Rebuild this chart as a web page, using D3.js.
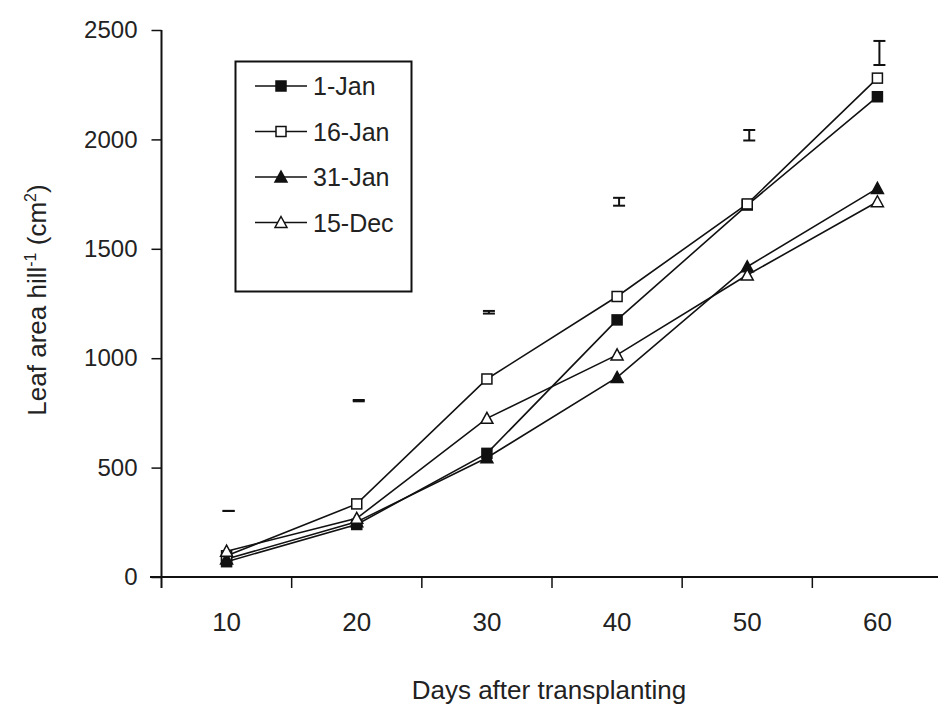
<!DOCTYPE html>
<html>
<head>
<meta charset="utf-8">
<script src="https://cdn.jsdelivr.net/npm/d3@7"></script>
<style>
  body { margin: 0; background: #fff; }
  text { font-family: "Liberation Sans", Arial, sans-serif; fill: #222; }
</style>
</head>
<body>
<div id="chart"></div>
<script>
 //days after transplanting
 var days = [10, 20, 30, 40, 50, 60];
 //series names
 var seriesNames = ["1-Jan", "16-Jan", "31-Jan", "15-Dec"];
 //leaf area per hill for each planting date
 var jan1 = [70, 240, 565, 1175, 1700, 2195];
 var jan16 = [97, 334, 905, 1282, 1705, 2280];
 var jan31 = [82, 252, 545, 912, 1418, 1776];
 var dec15 = [118, 268, 725, 1015, 1380, 1715];
 //lsd bars: middle and half length
 var lsdMid = [302, 806, 1210, 1715, 2019, 2395];
 var lsdHalf = [0, 3, 6, 18, 24, 55];
 //y tick values
 var yTicks = [0, 500, 1000, 1500, 2000, 2500];

 var allSeries = [jan1, jan16, jan31, dec15];
 var markerType = ["fsquare", "osquare", "ftriangle", "otriangle"];

 var width = 938,
     height = 708;

 //create a svg element
 var svg = d3.select("#chart")
     .append("svg")
     .attr("width", width)
     .attr("height", height);

 //x is a band scale, points sit at the band centre and ticks at the band edges
 var xScale = d3.scaleBand()
     .domain(days)
     .range([161.5, 942.5]);

 var yScale = d3.scaleLinear()
     .domain([0, 2500])
     .range([577, 30]);

 var cx = function (d) {
     return xScale(d) + xScale.bandwidth() / 2;
 };

 //y axis
 var yAxis = d3.axisLeft(yScale)
     .tickValues(yTicks)
     .tickFormat(d3.format("d"))
     .tickSize(10)
     .tickPadding(14);

 var gy = svg.append("g")
     .attr("class", "axis_y")
     .attr("transform", "translate(161.5,0)")
     .call(yAxis);
 gy.select(".domain").attr("stroke", "#111").attr("stroke-width", 2).attr("d", "M0,30V588");
 gy.selectAll(".tick line").attr("stroke", "#111").attr("stroke-width", 1.5);
 gy.selectAll(".tick text").attr("font-size", "24px").attr("fill", "#222");

 //x axis, ticks on band edges
 var xAxis = d3.axisBottom(xScale)
     .tickSize(0)
     .tickPadding(51);

 var gx = svg.append("g")
     .attr("class", "axis_x")
     .attr("transform", "translate(0,577)")
     .call(xAxis);
 gx.select(".domain").attr("stroke", "#111").attr("stroke-width", 2).attr("d", "M150,0H938");
 gx.selectAll(".tick text").attr("font-size", "26px").attr("fill", "#222").attr("dy", "0.1em");

 gx.selectAll(".edge")
     .data(days.slice(1))
     .enter()
     .append("line")
     .attr("class", "edge")
     .attr("x1", function (d) { return xScale(d); })
     .attr("x2", function (d) { return xScale(d); })
     .attr("y1", 0)
     .attr("y2", 11)
     .attr("stroke", "#111")
     .attr("stroke-width", 1.5);

 //axis titles
 svg.append("text")
     .attr("x", 549)
     .attr("y", 699)
     .attr("text-anchor", "middle")
     .attr("font-size", "26px")
     .text("Days after transplanting");

 var yTitle = svg.append("text")
     .attr("transform", "translate(46,300) rotate(-90)")
     .attr("text-anchor", "middle")
     .attr("font-size", "26px");
 yTitle.append("tspan").text("Leaf area hill");
 yTitle.append("tspan").attr("font-size", "16px").attr("dy", "-10").text("-1");
 yTitle.append("tspan").attr("dy", "10").text(" (cm");
 yTitle.append("tspan").attr("font-size", "16px").attr("dy", "-10").text("2");
 yTitle.append("tspan").attr("dy", "10").text(")");

 //draw a marker of given type
 function drawMarker(g, type, x, y) {
     if (type == "fsquare" || type == "osquare") {
         g.append("rect")
             .attr("x", x - 5)
             .attr("y", y - 5)
             .attr("width", 10)
             .attr("height", 10)
             .attr("fill", type == "fsquare" ? "#111" : "#fff")
             .attr("stroke", "#111")
             .attr("stroke-width", 1.5);
     } else {
         g.append("path")
             .attr("d", "M" + x + "," + (y - 6) + "L" + (x + 6) + "," + (y + 5) + "L" + (x - 6) + "," + (y + 5) + "Z")
             .attr("fill", type == "ftriangle" ? "#111" : "#fff")
             .attr("stroke", "#111")
             .attr("stroke-width", 1.5);
     }
 }

 var line = d3.line()
     .x(function (d, i) { return cx(days[i]); })
     .y(function (d) { return yScale(d); });

 var plot = svg.append("g");

 //lines first, then markers on top
 allSeries.forEach(function (s) {
     plot.append("path")
         .attr("d", line(s))
         .attr("fill", "none")
         .attr("stroke", "#111")
         .attr("stroke-width", 1.6);
 });
 allSeries.forEach(function (s, k) {
     s.forEach(function (v, i) {
         drawMarker(plot, markerType[k], cx(days[i]), yScale(v));
     });
 });

 //lsd bars
 var bars = svg.append("g");
 days.forEach(function (d, i) {
     var x = cx(d) + 2;
     var top = yScale(lsdMid[i] + lsdHalf[i]);
     var bot = yScale(lsdMid[i] - lsdHalf[i]);
     bars.append("line")
         .attr("x1", x).attr("x2", x).attr("y1", top).attr("y2", bot)
         .attr("stroke", "#111").attr("stroke-width", 2);
     [top, bot].forEach(function (yy) {
         bars.append("line")
             .attr("x1", x - 6).attr("x2", x + 6).attr("y1", yy).attr("y2", yy)
             .attr("stroke", "#111").attr("stroke-width", 2);
     });
 });

 //legend
 var legend = svg.append("g");
 legend.append("rect")
     .attr("x", 235.5)
     .attr("y", 61.5)
     .attr("width", 176)
     .attr("height", 230)
     .attr("fill", "#fff")
     .attr("stroke", "#111")
     .attr("stroke-width", 2);

 seriesNames.forEach(function (name, i) {
     var ly = 86 + i * 45.5;
     legend.append("line")
         .attr("x1", 255).attr("x2", 307).attr("y1", ly).attr("y2", ly)
         .attr("stroke", "#111").attr("stroke-width", 1.6);
     drawMarker(legend, markerType[i], 281, ly);
     legend.append("text")
         .attr("x", 313)
         .attr("y", ly)
         .attr("dy", "0.36em")
         .attr("font-size", "25px")
         .text(name);
 });
</script>
</body>
</html>
